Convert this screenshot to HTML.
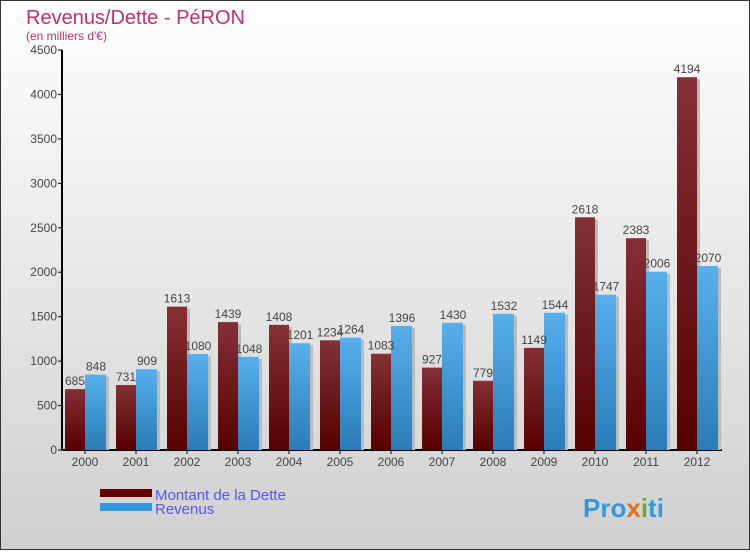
<!DOCTYPE html>
<html><head><meta charset="utf-8"><style>
html,body{margin:0;padding:0}
body{width:750px;height:550px;overflow:hidden;font-family:"Liberation Sans",sans-serif}
</style></head><body>
<svg width="750" height="550" xmlns="http://www.w3.org/2000/svg">
<defs>
<linearGradient id="bg" x1="0" y1="0" x2="0" y2="1"><stop offset="0" stop-color="#ffffff"/><stop offset="1" stop-color="#d0d0d0"/></linearGradient>
<linearGradient id="gd" x1="0" y1="0" x2="0" y2="1"><stop offset="0" stop-color="#843035"/><stop offset="1" stop-color="#560000"/></linearGradient>
<linearGradient id="gr" x1="0" y1="0" x2="0" y2="1"><stop offset="0" stop-color="#56b0ec"/><stop offset="1" stop-color="#2a7cb8"/></linearGradient>
</defs>
<rect x="0.5" y="0.5" width="749" height="549" fill="url(#bg)" stroke="#333"/>
<text x="26" y="24" font-size="20" fill="#c0306a">Revenus/Dette - PéRON</text>
<text x="26" y="40" font-size="12" fill="#c0306a">(en milliers d'€)</text>
<g id="axes"></g>
<g id="bars"></g>
<rect x="100" y="489" width="52" height="8" fill="#600000"/>
<text x="155" y="500" font-size="15" fill="#5555ee">Montant de la Dette</text>
<rect x="100" y="503" width="52" height="8" fill="#3399dd"/>
<text x="155" y="514" font-size="15" fill="#5555ee">Revenus</text>
<text x="583" y="517" font-size="26" font-weight="bold" fill="#3399dd">Pro<tspan fill="#e07020">x</tspan><tspan fill="#66aa33">i</tspan>ti</text>
</svg>
<script>
const years=["2000","2001","2002","2003","2004","2005","2006","2007","2008","2009","2010","2011","2012"];
const dette=[685,731,1613,1439,1408,1234,1083,927,779,1149,2618,2383,4194];
const revenus=[848,909,1080,1048,1201,1264,1396,1430,1532,1544,1747,2006,2070];
const yTicks=[0,500,1000,1500,2000,2500,3000,3500,4000,4500];
const NS="http://www.w3.org/2000/svg";
const y0=450,yMax=4500,ph=400,x0=62,step=51,first=85,bw=20;
const Y=v=>y0-v*ph/yMax;
const X=i=>first+i*step;
function mk(t,a,p){const e=document.createElementNS(NS,t);for(const k in a)e.setAttribute(k,a[k]);p.appendChild(e);return e;}
const ax=document.getElementById('axes'),bars=document.getElementById('bars');
const yl=mk('line',{x1:x0,y1:50,x2:x0,y2:y0,stroke:'#000','stroke-width':2},ax);


const xl=mk('line',{x1:x0,y1:y0,x2:722,y2:y0,stroke:'#000','stroke-width':2},ax);


yTicks.forEach(v=>{
 mk('line',{x1:x0-4,y1:Y(v),x2:x0,y2:Y(v),stroke:'#000'},ax);
 const t=mk('text',{x:x0-5,y:Y(v)+4,'font-size':12,fill:'#444','text-anchor':'end'},ax);t.textContent=v;
 
 
});
years.forEach((yr,i)=>{
 const c=X(i);
 mk('line',{x1:c,y1:y0,x2:c,y2:y0+4,stroke:'#000'},ax);
 const t=mk('text',{x:c,y:y0+16,'font-size':12,fill:'#444','text-anchor':'middle'},ax);t.textContent=yr;
 
 
 mk('rect',{x:c-bw+3,y:Y(dette[i])+2,width:bw,height:y0-Y(dette[i])-2,fill:'#bbb'},bars);
 mk('rect',{x:c+3,y:Y(revenus[i])+2,width:bw+1,height:y0-Y(revenus[i])-2,fill:'#bbb'},bars);
 const d=mk('rect',{x:c-bw,y:Y(dette[i]),width:bw,height:y0-Y(dette[i]),fill:'url(#gd)'},bars);
 
 
 const r=mk('rect',{x:c,y:Y(revenus[i]),width:bw+1,height:y0-Y(revenus[i]),fill:'url(#gr)'},bars);
 
 
 const l1=mk('text',{x:c-bw/2,y:Y(dette[i])-4,'font-size':12,fill:'#444','text-anchor':'middle'},bars);l1.textContent=dette[i];
 
 
 const l2=mk('text',{x:c+bw/2+1,y:Y(revenus[i])-4,'font-size':12,fill:'#444','text-anchor':'middle'},bars);l2.textContent=revenus[i];
 
 
});
</script>
</body></html>
